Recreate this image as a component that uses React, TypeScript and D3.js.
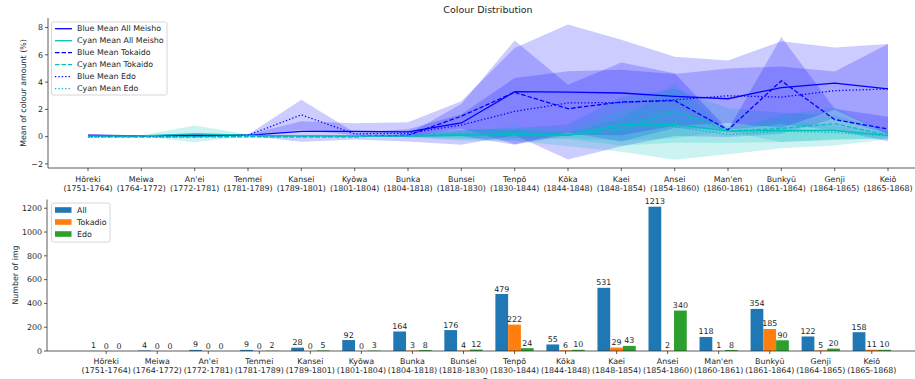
import * as d3 from "d3";

const ERAS = ["Hōreki", "Meiwa", "An'ei", "Tenmei", "Kansei", "Kyōwa", "Bunka", "Bunsei", "Tenpō", "Kōka", "Kaei", "Ansei", "Man'en", "Bunkyū", "Genji", "Keiō"];
const YEARS = ["(1751-1764)", "(1764-1772)", "(1772-1781)", "(1781-1789)", "(1789-1801)", "(1801-1804)", "(1804-1818)", "(1818-1830)", "(1830-1844)", "(1844-1848)", "(1848-1854)", "(1854-1860)", "(1860-1861)", "(1861-1864)", "(1864-1865)", "(1865-1868)"];

// mean / std of colour amount (%)
const BLUE_ALL = [0.1, 0.05, 0.1, 0.1, 0.38, 0.39, 0.35, 1.0, 3.3, 3.27, 3.2, 2.95, 2.78, 3.6, 3.93, 3.5];
const BLUE_ALL_STD = [0.05, 0.03, 0.1, 0.05, 0.75, 0.6, 0.7, 1.6, 3.2, 4.95, 3.9, 2.9, 2.8, 3.4, 2.6, 3.3];
const CYAN_ALL = [0.05, 0.05, 0.2, 0.1, 0.05, 0.05, 0.05, 0.1, 0.15, 0.1, 0.9, 0.9, 0.4, 0.45, 0.45, 0.1];
const CYAN_ALL_STD = [0.03, 0.03, 0.62, 0.05, 0.05, 0.05, 0.1, 0.4, 0.45, 0.8, 2.0, 2.6, 1.7, 1.3, 1.1, 0.3];
const BLUE_TOK = [0, 0, 0, 0, 0, 0, 0.1, 1.5, 3.25, 2.05, 2.54, 2.64, 0.5, 4.1, 1.25, 0.56];
const BLUE_TOK_STD = [0, 0, 0, 0, 0, 0, 0.1, 0.9, 3.8, 1.75, 2.9, 2.0, 0, 3.2, 0.8, 0.9];
const CYAN_TOK = [0, 0, 0, 0, 0, 0, 0.05, 0.2, 0.2, 0.1, 0.5, 1.9, 0.4, 0.6, 0.95, 0.1];
const CYAN_TOK_STD = [0, 0, 0, 0, 0, 0, 0.05, 0.3, 0.3, 0.2, 0.8, 2.0, 0, 1.0, 1.2, 0.2];
const BLUE_EDO = [0, 0, 0, 0.1, 1.6, 0.2, 0.25, 0.85, 1.85, 2.47, 2.5, 2.7, 3.0, 2.9, 3.37, 3.5];
const BLUE_EDO_STD = [0, 0, 0, 0.05, 1.1, 0.1, 0.3, 0.8, 2.45, 2.33, 2.4, 1.9, 2.0, 2.25, 1.4, 3.3];
const CYAN_EDO = [0, 0, 0, 0.05, 0.05, 0.05, 0.05, 0.1, 0.3, 0.1, 0.65, 0.75, 0.15, 0.4, 0.3, 0.05];
const CYAN_EDO_STD = [0, 0, 0, 0.03, 0.05, 0.05, 0.1, 0.3, 0.5, 0.3, 1.3, 1.2, 0.6, 0.8, 0.5, 0.2];

// image counts
const COUNT_ALL = [1, 4, 9, 9, 28, 92, 164, 176, 479, 55, 531, 1213, 118, 354, 122, 158];
const COUNT_TOK = [0, 0, 0, 0, 0, 0, 3, 4, 222, 6, 29, 2, 1, 185, 5, 11];
const COUNT_EDO = [0, 0, 0, 2, 5, 3, 8, 12, 24, 10, 43, 340, 8, 90, 20, 10];

const Y_TICKS_TOP = [-2, 0, 2, 4, 6, 8];
const Y_TICKS_BOT = [0, 200, 400, 600, 800, 1000, 1200];

const BLUE = "#0000ff";
const CYAN = "#00bfbf";
const DASH = "4.5,2";
const DOT = "1.3,2.1";
const FONT = "DejaVu Sans, sans-serif";
const FS = 7.9;
const TXT = "#262626";
const AXIS = "#333";

const SERIES = [
  { label: "Blue Mean All Meisho", mean: BLUE_ALL, std: BLUE_ALL_STD, color: BLUE, dash: undefined },
  { label: "Cyan Mean All Meisho", mean: CYAN_ALL, std: CYAN_ALL_STD, color: CYAN, dash: undefined },
  { label: "Blue Mean Tokaido", mean: BLUE_TOK, std: BLUE_TOK_STD, color: BLUE, dash: DASH },
  { label: "Cyan Mean Tokaido", mean: CYAN_TOK, std: CYAN_TOK_STD, color: CYAN, dash: DASH },
  { label: "Blue Mean Edo", mean: BLUE_EDO, std: BLUE_EDO_STD, color: BLUE, dash: DOT },
  { label: "Cyan Mean Edo", mean: CYAN_EDO, std: CYAN_EDO_STD, color: CYAN, dash: DOT },
];

const BARS = [
  { label: "All", values: COUNT_ALL, color: "#1f77b4", off: -0.25 },
  { label: "Tokadio", values: COUNT_TOK, color: "#ff7f0e", off: 0 },
  { label: "Edo", values: COUNT_EDO, color: "#2ca02c", off: 0.25 },
];

function TopChart() {
  const x = d3.scaleLinear().domain([-0.75, 15.75]).range([48, 928]);
  const y = d3.scaleLinear().domain([-2.3, 8.7]).range([168, 18]);
  const idx = d3.range(ERAS.length);

  const area = (mean: number[], std: number[]) =>
    d3.area<number>()
      .x((i) => x(i))
      .y0((i) => y(mean[i] - std[i]))
      .y1((i) => y(mean[i] + std[i]))(idx) ?? "";
  const line = (mean: number[]) =>
    d3.line<number>().x((i) => x(i)).y((i) => y(mean[i]))(idx) ?? "";

  return (
    <g>
      <text x={488} y={13} textAnchor="middle" fontSize={9.5} fill={TXT}>Colour Distribution</text>

      {SERIES.map((s) => (
        <path key={"b" + s.label} d={area(s.mean, s.std)} fill={s.color} fillOpacity={0.2} />
      ))}
      {SERIES.map((s) => (
        <path key={"l" + s.label} d={line(s.mean)} fill="none" stroke={s.color} strokeWidth={1.3} strokeDasharray={s.dash} />
      ))}

      {/* axes */}
      <line x1={48} x2={928} y1={168} y2={168} stroke={AXIS} strokeWidth={0.8} />
      <line x1={48} x2={48} y1={18} y2={168} stroke={AXIS} strokeWidth={0.8} />
      {Y_TICKS_TOP.map((t) => (
        <g key={t}>
          <line x1={45} x2={48} y1={y(t)} y2={y(t)} stroke={AXIS} strokeWidth={0.8} />
          <text x={43} y={y(t)} dy="0.35em" textAnchor="end" fontSize={FS} fill={TXT}>
            {t < 0 ? "\u2212" + Math.abs(t) : t}
          </text>
        </g>
      ))}
      {idx.map((i) => (
        <g key={i}>
          <line x1={x(i)} x2={x(i)} y1={168} y2={171} stroke={AXIS} strokeWidth={0.8} />
          <text x={x(i)} y={181.5} textAnchor="middle" fontSize={FS} fill={TXT}>{ERAS[i]}</text>
          <text x={x(i)} y={191} textAnchor="middle" fontSize={FS} fill={TXT}>{YEARS[i]}</text>
        </g>
      ))}
      <text transform="translate(26,93) rotate(-90)" textAnchor="middle" fontSize={FS} fill={TXT}>
        Mean of colour amount (%)
      </text>

      {/* legend */}
      <rect x={51.5} y={22} width={115.5} height={73} rx={2} fill="#fff" fillOpacity={0.8} stroke="#ccc" strokeWidth={0.8} />
      {SERIES.map((s, k) => (
        <g key={"lg" + s.label}>
          <line x1={55} x2={72} y1={28.7 + k * 12} y2={28.7 + k * 12} stroke={s.color} strokeWidth={1.3} strokeDasharray={s.dash} />
          <text x={77} y={28.7 + k * 12} dy="0.35em" fontSize={FS} fill={TXT}>{s.label}</text>
        </g>
      ))}
    </g>
  );
}

function BottomChart() {
  const x = d3.scaleLinear().domain([-1.16, 16.16]).range([47, 931]);
  const y = d3.scaleLinear().domain([0, 1273.65]).range([351, 199.5]);
  const w = x(0.25) - x(0);
  const idx = d3.range(ERAS.length);

  return (
    <g>
      {BARS.map((b) =>
        b.values.map((v, i) => (
          <g key={b.label + i}>
            <rect x={x(i + b.off) - w / 2} y={y(v)} width={w} height={y(0) - y(v)} fill={b.color} />
            <text x={x(i + b.off)} y={y(v) - 2.5} textAnchor="middle" fontSize={FS} fill={TXT}>{v}</text>
          </g>
        )),
      )}

      <line x1={47} x2={931} y1={351} y2={351} stroke={AXIS} strokeWidth={0.8} />
      <line x1={47} x2={47} y1={199.5} y2={351} stroke={AXIS} strokeWidth={0.8} />
      {Y_TICKS_BOT.map((t) => (
        <g key={t}>
          <line x1={44} x2={47} y1={y(t)} y2={y(t)} stroke={AXIS} strokeWidth={0.8} />
          <text x={42} y={y(t)} dy="0.35em" textAnchor="end" fontSize={FS} fill={TXT}>{t}</text>
        </g>
      ))}
      {idx.map((i) => (
        <g key={i}>
          <line x1={x(i)} x2={x(i)} y1={351} y2={354} stroke={AXIS} strokeWidth={0.8} />
          <text x={x(i)} y={363.5} textAnchor="middle" fontSize={FS} fill={TXT}>{ERAS[i]}</text>
          <text x={x(i)} y={373} textAnchor="middle" fontSize={FS} fill={TXT}>{YEARS[i]}</text>
        </g>
      ))}
      <text x={489} y={384} textAnchor="middle" fontSize={FS} fill={TXT}>Era</text>
      <text transform="translate(18,275) rotate(-90)" textAnchor="middle" fontSize={FS} fill={TXT}>
        Number of img
      </text>

      {/* legend */}
      <rect x={51.5} y={203} width={58.5} height={39} rx={2} fill="#fff" fillOpacity={0.8} stroke="#ccc" strokeWidth={0.8} />
      {BARS.map((b, k) => (
        <g key={"lg" + b.label}>
          <rect x={55} y={210 + k * 12 - 2.8} width={16.5} height={5.6} fill={b.color} />
          <text x={77} y={210 + k * 12} dy="0.35em" fontSize={FS} fill={TXT}>{b.label}</text>
        </g>
      ))}
    </g>
  );
}

export default function App() {
  return (
    <div style={{ position: "absolute", left: 0, top: 0, width: 915, height: 379, background: "#fff" }}>
      <svg width={915} height={379} fontFamily={FONT} style={{ display: "block" }}>
        <TopChart />
        <BottomChart />
      </svg>
    </div>
  );
}
